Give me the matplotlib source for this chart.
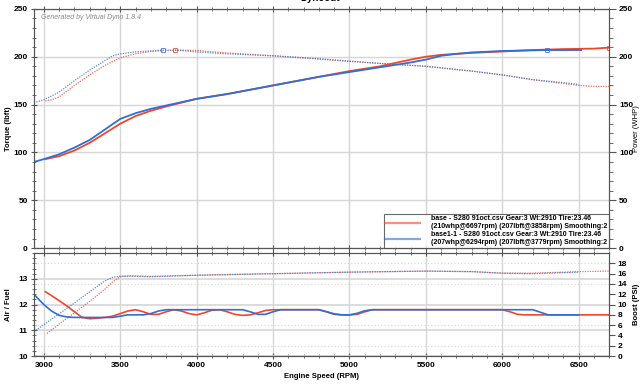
import matplotlib
matplotlib.use("Agg")
import matplotlib.pyplot as plt
from matplotlib.ticker import MultipleLocator

RED = "#f2462a"
BLUE = "#2f6fd6"

# base (red) run
red_rpm_pw = [3010, 3100, 3200, 3300, 3400, 3500, 3600, 3700, 3800, 4000, 4200, 4500, 4800, 5000, 5200, 5400, 5500, 5600, 5800, 6000, 6200, 6400, 6600, 6697]
red_power = [93, 96, 102, 110, 120, 130, 138, 143.5, 148, 156, 161, 170, 179, 185, 190, 197, 200, 202, 204, 205.5, 207, 208, 208.5, 209.5]
red_rpm_tq = [3010, 3050, 3100, 3200, 3300, 3400, 3500, 3600, 3700, 3858, 4000, 4200, 4500, 4800, 5000, 5200, 5500, 5800, 6000, 6200, 6400, 6500, 6600, 6700]
red_torque = [154, 155, 158, 170, 181, 191, 199, 203, 205.5, 207, 206.5, 204, 201, 197.5, 195, 193, 190, 185, 181, 176, 172, 170, 169, 169]

# base1-1 (blue) run
blue_rpm_pw = [2935, 3000, 3100, 3200, 3300, 3400, 3500, 3600, 3700, 3800, 4000, 4200, 4500, 4800, 5000, 5200, 5400, 5500, 5600, 5700, 5800, 6000, 6294, 6516]
blue_power = [90, 93, 98, 105, 113, 124, 135, 141, 145.5, 149, 156, 161, 170, 179, 184, 189, 194, 197, 201, 203, 204.5, 206, 207, 207]
blue_rpm_tq = [2935, 3000, 3100, 3200, 3300, 3400, 3450, 3500, 3600, 3779, 3900, 4000, 4200, 4500, 4800, 5000, 5200, 5500, 5800, 6000, 6200, 6400, 6500]
blue_torque = [152, 155, 163, 175, 186, 196, 201, 203, 205, 207, 206.5, 205, 203, 201, 198, 195.5, 193, 190, 185, 181, 176, 173, 171]

# air / fuel
red_rpm_afr = [3010, 3050, 3100, 3150, 3200, 3250, 3300, 3350, 3400, 3450, 3500, 3550, 3600, 3650, 3700, 3750, 3800, 3850, 3900, 3950, 4000, 4050, 4100, 4150, 4200, 4250, 4300, 4350, 4400, 4450, 4500, 4800, 4850, 4900, 4950, 5000, 5050, 5100, 5150, 6000, 6050, 6100, 6150, 6700]
red_afr = [12.5, 12.35, 12.15, 11.95, 11.72, 11.5, 11.45, 11.47, 11.5, 11.55, 11.65, 11.75, 11.8, 11.72, 11.62, 11.62, 11.72, 11.8, 11.75, 11.65, 11.6, 11.68, 11.78, 11.8, 11.72, 11.62, 11.58, 11.6, 11.68, 11.77, 11.8, 11.8, 11.72, 11.62, 11.6, 11.6, 11.62, 11.72, 11.8, 11.8, 11.72, 11.62, 11.6, 11.6]
blue_rpm_afr = [2935, 2975, 3000, 3050, 3100, 3150, 3200, 3450, 3500, 3550, 3650, 3700, 3750, 3800, 4300, 4350, 4400, 4450, 4500, 4550, 4800, 4850, 4900, 4950, 5000, 5050, 5100, 5150, 6200, 6250, 6300, 6500]
blue_afr = [12.4, 12.15, 12.0, 11.75, 11.58, 11.52, 11.5, 11.5, 11.55, 11.6, 11.6, 11.65, 11.75, 11.8, 11.8, 11.72, 11.62, 11.62, 11.72, 11.8, 11.8, 11.72, 11.64, 11.6, 11.6, 11.66, 11.76, 11.8, 11.8, 11.7, 11.6, 11.6]

# boost (psi)
red_rpm_bst = [3020, 3100, 3200, 3300, 3400, 3450, 3500, 3550, 3700, 4000, 4500, 5000, 5500, 5800, 6000, 6200, 6500, 6700]
red_boost = [4.4, 6.2, 8.4, 10.6, 13.0, 14.4, 15.4, 15.6, 15.5, 15.7, 16.0, 16.3, 16.5, 16.4, 16.1, 16.1, 16.4, 16.5]
blue_rpm_bst = [2935, 3000, 3100, 3200, 3300, 3400, 3450, 3500, 3600, 3700, 3800, 4000, 4500, 5000, 5500, 5800, 6000, 6200, 6500]
blue_boost = [4.7, 6.1, 8.2, 10.3, 12.5, 14.6, 15.3, 15.5, 15.5, 15.4, 15.5, 15.7, 16.0, 16.3, 16.5, 16.4, 16.1, 16.0, 16.3]

red_label = "base - S280 91oct.csv Gear:3 Wt:2910 Tire:23.46\n(210whp@6697rpm) (207lbft@3858rpm) Smoothing:2"
blue_label = "base1-1 - S280 91oct.csv Gear:3 Wt:2910 Tire:23.46\n(207whp@6294rpm) (207lbft@3779rpm) Smoothing:2"

plt.rcParams["font.family"] = ["Liberation Sans", "DejaVu Sans"]
plt.rcParams["font.size"] = 5.5

fig = plt.figure(figsize=(6.4, 3.87), dpi=100)
ax = fig.add_axes([0.053, 0.359, 0.899, 0.618])
ax2 = fig.add_axes([0.053, 0.080, 0.899, 0.266])

GRID = "#d6d6d6"
SPINE = "#555555"
TICK_FS = 6


def style(a, xlabels=True):
    a.set_xlim(2935, 6700)
    a.xaxis.set_major_locator(MultipleLocator(500))
    a.xaxis.set_minor_locator(MultipleLocator(100))
    a.grid(True, which="major", axis="x", color=GRID, lw=1.0)
    a.tick_params(which="both", direction="inout", colors=SPINE, labelcolor="black",
                  top=True, labelsize=TICK_FS, pad=2)
    a.tick_params(which="major", length=5)
    a.tick_params(which="minor", length=3)
    for lab in a.get_xticklabels() + a.get_yticklabels():
        lab.set_fontweight("bold")
    if not xlabels:
        a.tick_params(labelbottom=False)
    for s in a.spines.values():
        s.set_color(SPINE)


# top: torque + power
ax.set_ylim(0, 250)
ax.yaxis.set_major_locator(MultipleLocator(50))
ax.yaxis.set_minor_locator(MultipleLocator(10))
ax.grid(True, which="major", axis="y", color=GRID, lw=1.0)
ax.set_axisbelow(True)

ax.plot(red_rpm_tq, red_torque, color=RED, lw=0.9, ls=(0, (1, 1)), alpha=0.8)
ax.plot(blue_rpm_tq, blue_torque, color=BLUE, lw=0.9, ls=(0, (1, 1)), alpha=0.8)
ax.plot(red_rpm_pw, red_power, color=RED, lw=1.3, label=red_label)
ax.plot(blue_rpm_pw, blue_power, color=BLUE, lw=1.3, label=blue_label)
ax.plot([red_rpm_pw[-1]], [red_power[-1]], "s", mfc="none", mec=RED, ms=3.5, mew=0.7, alpha=0.8)
ax.plot([blue_rpm_pw[-2]], [blue_power[-2]], "s", mfc="none", mec=BLUE, ms=3.5, mew=0.7, alpha=0.8)
ax.plot([red_rpm_tq[9]], [red_torque[9]], "s", mfc="none", mec=RED, ms=3.5, mew=0.7, alpha=0.8)
ax.plot([blue_rpm_tq[9]], [blue_torque[9]], "s", mfc="none", mec=BLUE, ms=3.5, mew=0.7, alpha=0.8)
style(ax, xlabels=False)
ax.set_ylabel("Torque (lbft)", fontweight="bold", fontsize=5.5)
ax.yaxis.set_label_coords(-0.038, 0.5)

axr = ax.twinx()
axr.set_ylim(0, 250)
axr.yaxis.set_major_locator(MultipleLocator(50))
axr.yaxis.set_minor_locator(MultipleLocator(10))
axr.tick_params(which="both", direction="out", colors=SPINE, labelcolor="black",
                labelsize=TICK_FS, pad=2)
axr.tick_params(which="major", length=5)
axr.tick_params(which="minor", length=3)
for lab in axr.get_yticklabels():
    lab.set_fontweight("bold")
axr.set_ylabel("Power (WHP)", fontsize=5.5)
axr.yaxis.set_label_coords(1.041, 0.5)
for s in axr.spines.values():
    s.set_color(SPINE)

leg = ax.legend(loc="lower right", bbox_to_anchor=(1.0, 0.0), prop={"size": 5, "weight": "bold"},
                frameon=True, fancybox=False, edgecolor="#444444", borderpad=0.25,
                handlelength=5, labelspacing=0.15, handletextpad=1.6, borderaxespad=0)
leg.get_frame().set_linewidth(0.8)
for h in leg.get_lines():
    h.set_alpha(0.6)
    h.set_linewidth(1.6)

ax.text(0.012, 0.962, "Generated by Virtual Dyno 1.8.4", transform=ax.transAxes,
        fontsize=5, style="italic", color="#888888", va="center")

# bottom: air/fuel + boost
ax2.set_ylim(10, 14)
ax2.yaxis.set_minor_locator(MultipleLocator(0.2))
ax2.set_yticks([10, 11, 12, 13])
ax2.grid(True, which="major", axis="y", color=GRID, lw=1.2)
ax2.set_axisbelow(True)
ax2.plot(red_rpm_afr, red_afr, color=RED, lw=1.2)
ax2.plot(blue_rpm_afr, blue_afr, color=BLUE, lw=1.2)
style(ax2)
ax2.set_ylabel("Air / Fuel", fontweight="bold", fontsize=5.5)
ax2.yaxis.set_label_coords(-0.038, 0.5)
ax2.set_xlabel("Engine Speed (RPM)", fontweight="bold", fontsize=5.5, labelpad=3)

ax2r = ax2.twinx()
ax2r.set_ylim(0, 20)
ax2r.set_yticks(range(0, 20, 2))
for b in [2, 6, 14, 18]:
    ax2r.axhline(b, color=GRID, lw=0.8, ls=(0, (1, 2)), zorder=0)
ax2r.plot(red_rpm_bst, red_boost, color=RED, lw=0.9, ls=(0, (1, 1)), alpha=0.8)
ax2r.plot(blue_rpm_bst, blue_boost, color=BLUE, lw=0.9, ls=(0, (1, 1)), alpha=0.8)
ax2r.tick_params(direction="out", colors=SPINE, labelcolor="black", labelsize=TICK_FS,
                 length=4, pad=2)
for lab in ax2r.get_yticklabels():
    lab.set_fontweight("bold")
ax2r.set_ylabel("Boost (PSI)", fontweight="bold", fontsize=5.5)
ax2r.yaxis.set_label_coords(1.041, 0.5)
for s in ax2r.spines.values():
    s.set_color(SPINE)
ax2r.set_xlim(2935, 6700)

fig.text(0.5, 1.005, "Dynoout", ha="center", va="center", fontsize=7, fontweight="bold")

fig.savefig("out.png", dpi=100)
